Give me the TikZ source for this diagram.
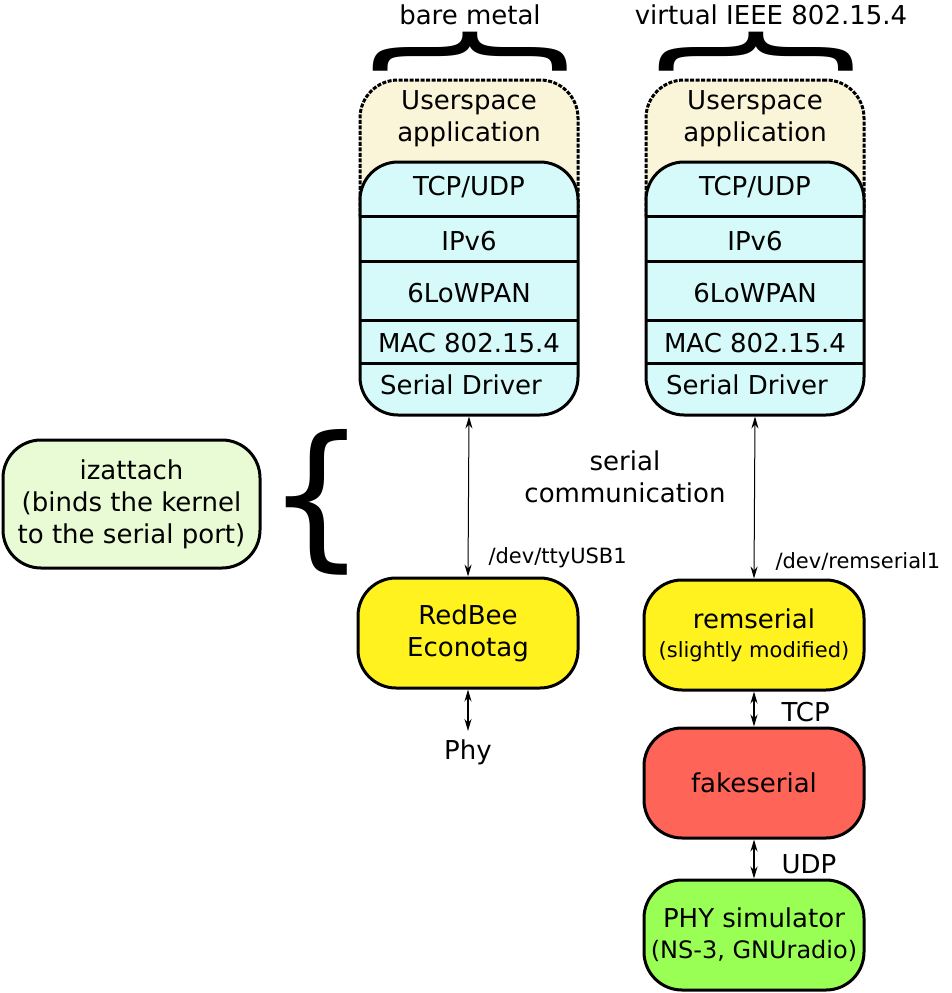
\documentclass[tikz,border=0pt]{standalone}
\usepackage{fontspec}
\setmainfont{DejaVu Sans}
\usetikzlibrary{arrows.meta,positioning}

\definecolor{stackcyan}{HTML}{D6FAFA}
\definecolor{userbeige}{HTML}{FAF4D9}
\definecolor{boxyellow}{HTML}{FFF21F}
\definecolor{boxred}{HTML}{FF6459}
\definecolor{boxgreen}{HTML}{99FF55}
\definecolor{palegreen}{HTML}{E9FBD4}

\begin{document}
\begin{tikzpicture}[x=1pt, y=-1pt,
            font=\fontsize{26}{32}\selectfont,
            stack/.style={draw, line width=3pt, rounded corners=38pt, fill=stackcyan,
                 minimum width=218pt, minimum height=253pt},
            usr/.style={draw, line width=3pt, dash pattern=on 4pt off 1.5pt, rounded corners=38pt,
                 fill=userbeige, minimum width=218pt, minimum height=170pt},
            layer/.style={inner sep=0pt, text height=19pt, text depth=5pt},
            blob/.style={draw, line width=3pt, rounded corners=38pt, minimum width=220pt,
                 minimum height=110pt, align=center},
            small/.style={font=\fontsize{21}{24}\selectfont},
            bracket/.style={inner sep=0pt, font=\fontsize{158}{158}\selectfont},
            topbracket/.style={bracket, rotate=-90, xscale=.64, yscale=1.33},
            link/.style={{Stealth[length=12pt,width=7pt]}-{Stealth[length=12pt,width=7pt]}, line width=1pt},
            thicklink/.style={link, line width=1.6pt}
            ]
            \useasboundingbox (0,0) rectangle (952,993);

            % Protocol stacks
            \foreach \sx/\nm in {469/l, 755/r} {
                \node[usr] (usr-\nm) at (\sx,165) {};
                \node[align=center] (usrtxt-\nm) at (\sx,119) {Userspace\\application};
                \node[stack] (stack-\nm) at (\sx,288.5) {};
                \foreach \y in {216,261,320,363}
                    \draw[line width=3pt] (\sx-109,\y) -- (\sx+109,\y);
                \node[layer] (tcp-\nm) at (\sx,188.5) {TCP/UDP};
                \node[layer] (ip-\nm) at (\sx,243.5) {IPv6};
                \node[layer] (lowpan-\nm) at (\sx,295.5) {6LoWPAN};
                \node[layer] (mac-\nm) at (\sx,345.5) {MAC 802.15.4};
                \node[layer] (drv-\nm) at (\sx-8,387.5) {Serial Driver};
                \node[topbracket] (brace-\nm) at (\sx+1,52) {\{};
            }
            \node (bare) at (470,15) {bare metal};
            \node (virt) at (771,15) {virtual IEEE 802.15.4};

            % Boxes
            \node[blob, fill=palegreen, minimum width=257pt, minimum height=128pt] (izattach) at (131.5,504)
                {izattach\\(binds the kernel\\to the serial port)};
            \node[bracket] (izbrace) at (317,502) {\{};
            \node[align=center] (serialcomm) at (625,477) {serial\\communication};
            \node[blob, fill=boxyellow] (redbee) at (468,633) {RedBee\\Econotag};
            \node[blob, fill=boxyellow] (remserial) at (754,635)
                {remserial\\[-3pt]{\fontsize{21}{24}\selectfont(slightly modified)}};
            \node[blob, fill=boxred] (fakeserial) at (754,783) {fakeserial};
            \node[blob, fill=boxgreen] (physim) at (754,935)
                {PHY simulator\\[-1pt]{\fontsize{24}{28}\selectfont(NS-3, GNUradio)}};
            \node[inner xsep=0pt, inner ysep=9pt, anchor=north] (phy) at (468,731) {Phy};

            % Arrows
            \draw[link] (stack-l.south) -- (redbee.north);
            \draw[link] (stack-r.south) -- (remserial.north);
            \draw[thicklink] (redbee.south) -- (phy.north);
            \draw[thicklink] (remserial.south) -- (fakeserial.north);
            \draw[thicklink] (fakeserial.south) -- (physim.north);

            % Labels
            \node[small, anchor=west] (ttyusb) at (485,558) {/dev/ttyUSB1};
            \node[small, anchor=west] (remdev) at (772,561) {/dev/remserial1};
            \node[anchor=west] (tcplbl) at (778,712) {TCP};
            \node[anchor=west] (udplbl) at (778,864) {UDP};
        \end{tikzpicture}
\end{document}
